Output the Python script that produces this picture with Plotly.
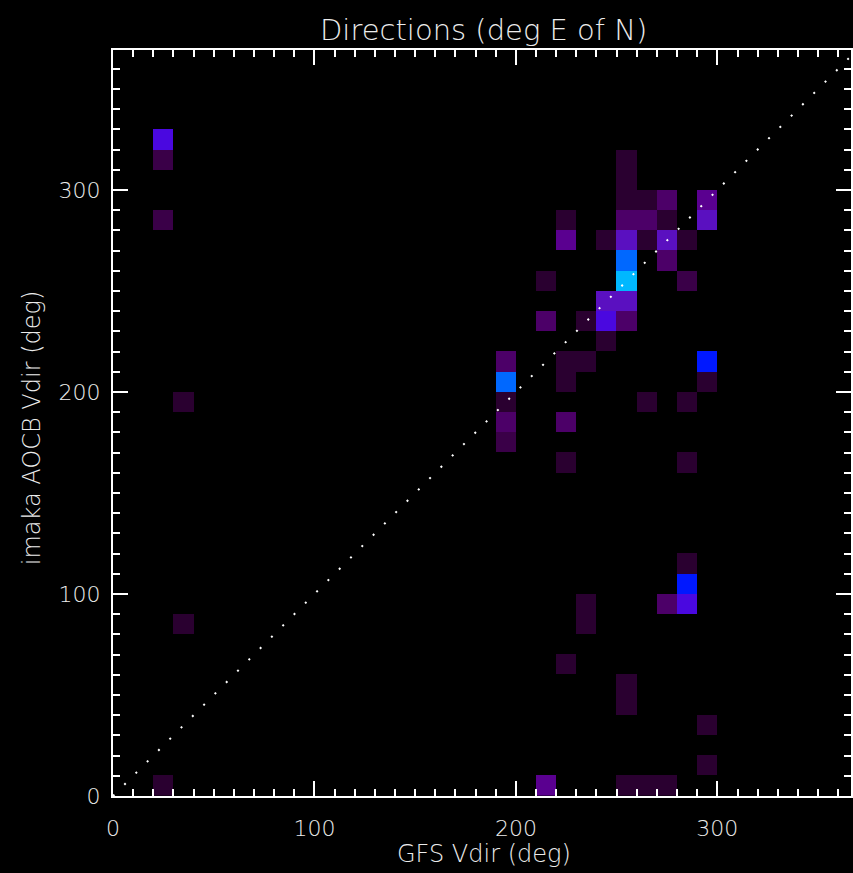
import numpy as np
import plotly.graph_objects as go

# ---- data: 10-degree bins (lower edge of GFS bin, lower edge of imaka bin, count) ----
cell_gfs = [20, 20, 20, 20,
            30, 30,
            190, 190, 190, 190, 190,
            210, 210, 210,
            220, 220, 220, 220, 220, 220, 220,
            230, 230, 230, 230,
            240, 240, 240, 240,
            250, 250, 250, 250, 250, 250, 250, 250, 250, 250, 250, 250, 250,
            260, 260, 260, 260, 260,
            270, 270, 270, 270, 270, 270,
            280, 280, 280, 280, 280, 280, 280,
            290, 290, 290, 290, 290, 290]
cell_aocb = [320, 310, 280, 0,
             190, 80,
             210, 200, 190, 180, 170,
             250, 230, 0,
             280, 270, 210, 200, 180, 160, 60,
             230, 210, 90, 80,
             270, 240, 230, 220,
             310, 300, 290, 280, 270, 260, 250, 240, 230, 50, 40, 0, 0,
             290, 280, 270, 190, 0,
             290, 280, 270, 260, 90, 0,
             270, 250, 190, 160, 110, 100, 90,
             290, 280, 210, 200, 30, 10]
cell_count = [6, 2, 2, 1,
              1, 1,
              3, 8, 1, 3, 2,
              1, 3, 4,
              1, 4, 1, 1, 3, 1, 1,
              1, 1, 1, 1,
              1, 5, 6, 1,
              1, 1, 1, 3, 5, 8, 9, 5, 3, 1, 1, 1, 1,
              1, 3, 1, 1, 1,
              3, 1, 5, 3, 3, 1,
              1, 2, 1, 1, 1, 7, 6,
              4, 5, 7, 1, 1, 1]

bin_edges = list(range(0, 371, 10))
tick_vals = [0, 100, 200, 300]
tick_text = ["0", "100", "200", "300"]
diag = [0, 370]

level_colors = ["#2a0030", "#3a0048", "#4c0068", "#5a0090", "#5a10c0",
                "#4a08e0", "#0018ff", "#0068ff", "#00b8ff"]

# ---- build grid ----
centers = [e + 5 for e in bin_edges[:-1]]
nb = len(centers)
z = np.full((nb, nb), np.nan)
for gx, gy, c in zip(cell_gfs, cell_aocb, cell_count):
    z[gy // 10, gx // 10] = c

nlev = len(level_colors)
colorscale = [[i / (nlev - 1), col] for i, col in enumerate(level_colors)]

W, H = 853, 873
L, T, B = 113, 50, 77
ppu = 2.02
xmax = (W - L) / ppu
ymax = (H - T - B) / ppu

FONT = "DejaVu Sans"
TXT = "#ececec"

fig = go.Figure()
fig.add_trace(go.Heatmap(
    x=centers, y=centers, z=z, colorscale=colorscale, zmin=1, zmax=nlev,
    showscale=False, hoverinfo="skip"))
fig.add_trace(go.Scatter(
    x=diag, y=diag, mode="lines",
    line=dict(color="white", width=2, dash="2px,14px"),
    hoverinfo="skip", showlegend=False))

axis_common = dict(
    showgrid=False, zeroline=False, showline=True, linecolor="white", linewidth=2,
    mirror="allticks", ticks="inside", ticklen=15, tickwidth=1.5, tickcolor="white",
    tickvals=tick_vals, ticktext=tick_text,
    tickfont=dict(family=FONT, size=22, color=TXT, weight=200),
    minor=dict(dtick=10, tick0=0, ticks="inside", ticklen=7, tickwidth=1.5,
               tickcolor="white", showgrid=False),
)
fig.update_xaxes(range=[0, xmax], ticklabelstandoff=12, **axis_common)
fig.update_yaxes(range=[0, ymax], ticklabelstandoff=6, **axis_common)

fig.update_layout(
    width=W, height=H,
    margin=dict(l=L, r=0, t=T, b=B),
    paper_bgcolor="black", plot_bgcolor="black",
    showlegend=False,
    annotations=[
        dict(text="Directions (deg E of N)", xref="paper", yref="paper",
             x=(485 - L) / (W - L), y=1 + (T - 30) / (H - T - B),
             xanchor="center", yanchor="middle", showarrow=False,
             font=dict(family=FONT, size=29, color=TXT, weight=200)),
        dict(text="GFS Vdir (deg)", xref="paper", yref="paper",
             x=(485 - L) / (W - L), y=-(854 - (H - B)) / (H - T - B),
             xanchor="center", yanchor="middle", showarrow=False,
             font=dict(family=FONT, size=24, color=TXT, weight=200)),
        dict(text="imaka AOCB Vdir (deg)", xref="paper", yref="paper",
             x=-(L - 32) / (W - L), y=1 - (428 - T) / (H - T - B),
             xanchor="center", yanchor="middle", showarrow=False, textangle=-90,
             font=dict(family=FONT, size=24, color=TXT, weight=200)),
    ],
)

fig.write_html(
    "out.html",
    config={"displayModeBar": False},
    post_script="document.body.style.margin='0';document.body.style.background='black';"
                "document.documentElement.style.overflow='hidden';",
)
